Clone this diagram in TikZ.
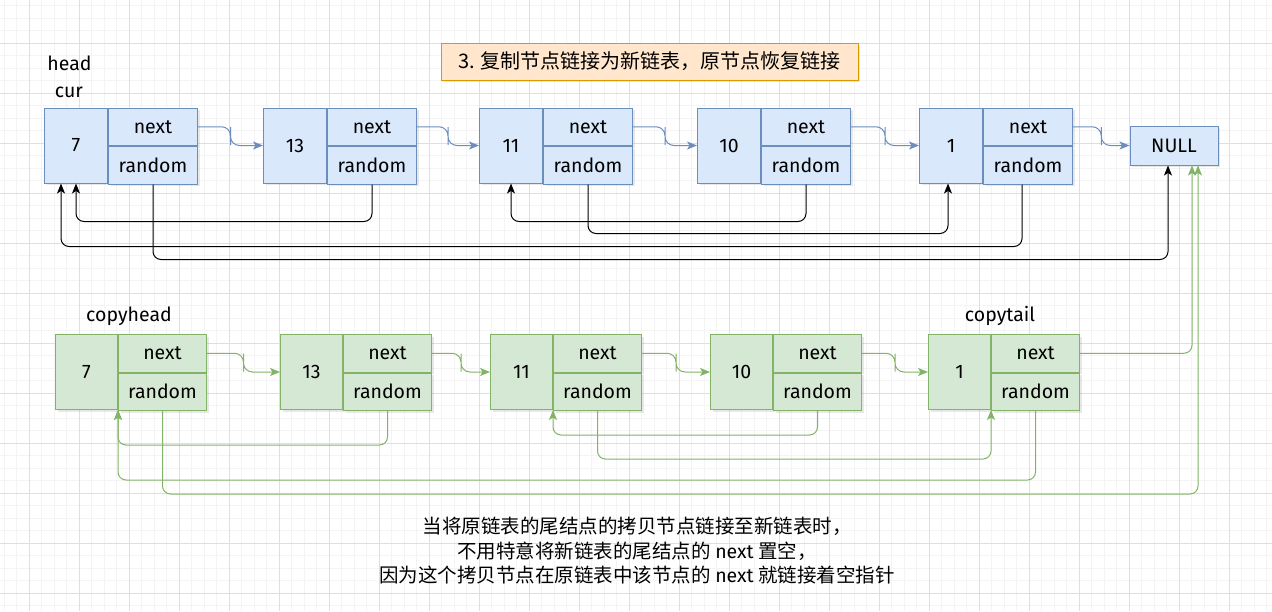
\documentclass[tikz,border=0pt]{standalone}
\usepackage{fontspec}
\setmainfont{Fira Sans}
\newfontfamily\cjk{Noto Sans CJK SC}
\newfontfamily\lat{Fira Sans}
\usetikzlibrary{arrows.meta,calc,shadows}
\definecolor{bfill}{HTML}{DAE8FC}
\definecolor{bline}{HTML}{6C8EBF}
\definecolor{gfill}{HTML}{D5E8D4}
\definecolor{gline}{HTML}{82B366}
\definecolor{ofill}{HTML}{FFE6CC}
\definecolor{oline}{HTML}{D79B00}
\begin{document}
\begin{tikzpicture}[x=1pt,y=-1pt,
  cell/.style={draw, line width=1pt, inner sep=0pt, font=\fontsize{19.5}{21}\selectfont,
    drop shadow={opacity=0.18, shadow xshift=2pt, shadow yshift=-2pt}},
  bcell/.style={cell, fill=bfill, draw=bline},
  gcell/.style={cell, fill=gfill, draw=gline},
  vcell/.style={minimum width=63pt, minimum height=75pt, anchor=north west},
  ncell/.style={minimum width=89pt, minimum height=37.5pt, anchor=north west},
  tip/.style={-{Stealth[length=10pt,width=8pt,inset=2.5pt]}},
  bnext/.style={draw=bline, line width=1pt, rounded corners=9pt, tip},
  rnd/.style={draw=black, line width=1pt, rounded corners=8pt, tip},
  grn/.style={draw=gline, line width=1pt, rounded corners=8pt, tip},
  lbl/.style={font=\fontsize{19.5}{21}\selectfont, inner sep=0pt, anchor=base},
  minorgrid/.style={draw=gray!9, line width=0.6pt},
  majorgrid/.style={draw=gray!25, line width=0.6pt}
]
\useasboundingbox (0,0) rectangle (1272,611);
\fill[white] (0,0) rectangle (1272,611);
% grid
\foreach \i in {0,...,101} {\draw[minorgrid] (4+12.5*\i,0) -- (4+12.5*\i,611);}
\foreach \i in {0,...,48} {\draw[minorgrid] (0,5.5+12.5*\i) -- (1272,5.5+12.5*\i);}
\foreach \i in {0,...,25} {\draw[majorgrid] (29+50*\i,0) -- (29+50*\i,611);}
\foreach \i in {0,...,11} {\draw[majorgrid] (0,43+50*\i) -- (1272,43+50*\i);}

% title
\node[draw=oline, fill=ofill, line width=1pt, minimum width=417pt, minimum height=37pt, inner sep=0pt,
  font=\cjk\fontsize{20}{22}\selectfont,
  drop shadow={opacity=0.18, shadow xshift=2pt, shadow yshift=-2pt}] (title) at (649.5,61.5)
  {3. 复制节点链接为新链表，原节点恢复链接};

% labels
\node[lbl] (head) at (69.5,70) {head};
\node[lbl] (cur) at (69,97) {cur};
\node[lbl] (copyhead) at (129,321) {copyhead};
\node[lbl] (copytail) at (1000,321) {copytail};

% top row
\foreach \n/\x/\v in {1/44/7, 2/263/13, 3/479/11, 4/697/10, 5/919/1} {
  \node[bcell, vcell] (a\n v) at (\x,107.5) {\v};
  \node[bcell, ncell] (a\n n) at (a\n v.north east) {next};
  \node[bcell, ncell] (a\n r) at (a\n n.south west) {random};
}
\node[bcell, minimum width=88pt, minimum height=39pt] (null) at (1174,145.5) {NULL};

% bottom row
\foreach \n/\x/\v in {1/55/7, 2/280/13, 3/490/11, 4/710/10, 5/928/1} {
  \node[gcell, vcell, minimum width=62pt] (b\n v) at (\x,334) {\v};
  \node[gcell, ncell, minimum width=88pt] (b\n n) at (b\n v.north east) {next};
  \node[gcell, ncell, minimum width=88pt] (b\n r) at (b\n n.south west) {random};
}

% next arrows top
\draw[bnext] (a1n.east) -| ($(a1n.east)!.5!(a2v.west)$) |- (a2v.west);
\draw[bnext] (a2n.east) -| ($(a2n.east)!.5!(a3v.west)$) |- (a3v.west);
\draw[bnext] (a3n.east) -| ($(a3n.east)!.5!(a4v.west)$) |- (a4v.west);
\draw[bnext] (a4n.east) -| ($(a4n.east)!.5!(a5v.west)$) |- (a5v.west);
\draw[bnext] (a5n.east) -| ($(a5n.east)!.5!(null.west)$) |- (null.west);

% random arrows top
\draw[rnd] (a2r.south) -- ++(0,37) -| (a1v.south);
\draw[rnd] (a1r.south) -- ++(0,75) -| ($(null.south)+(-6,0)$);
\draw[rnd] ($(a5r.south)+(-6,0)$) -- ++(0,62) -| ($(a1v.south)+(-15,0)$);
\draw[rnd] (a3r.south) -- ++(0,49) -| ($(a5v.south)+(-3,0)$);
\draw[rnd] (a4r.south) -- ++(0,37) -| (a3v.south);

% next arrows bottom
\draw[grn, rounded corners=9pt] (b1n.east) -| ($(b1n.east)!.5!(b2v.west)$) |- (b2v.west);
\draw[grn, rounded corners=9pt] (b2n.east) -| ($(b2n.east)!.5!(b3v.west)$) |- (b3v.west);
\draw[grn, rounded corners=9pt] (b3n.east) -| ($(b3n.east)!.5!(b4v.west)$) |- (b4v.west);
\draw[grn, rounded corners=9pt] (b4n.east) -| ($(b4n.east)!.5!(b5v.west)$) |- (b5v.west);
\draw[grn] (b5n.east) -| ($(null.south)+(18,0)$);

% random arrows bottom
\draw[grn] (b2r.south) -- ++(0,34) -| (b1v.south east);
\draw[grn] (b5r.south) -- ++(0,69) -| (b1v.south east);
\draw[grn] (b3r.south) -- ++(0,48) -| (b5v.south east);
\draw[grn] (b4r.south) -- ++(0,24) -| (b3v.south east);
\draw[grn] (b1r.south) -- ++(0,83) -| ($(null.south)+(24,0)$);

% note
\node[align=center, inner sep=0pt, font=\cjk\fontsize{19.5}{24.5}\selectfont] (note) at (637,551)
  {当将原链表的尾结点的拷贝节点链接至新链表时，\\
   不用特意将新链表的尾结点的 {\lat next} 置空，\\
   因为这个拷贝节点在原链表中该节点的 {\lat next} 就链接着空指针};
\end{tikzpicture}
\end{document}
